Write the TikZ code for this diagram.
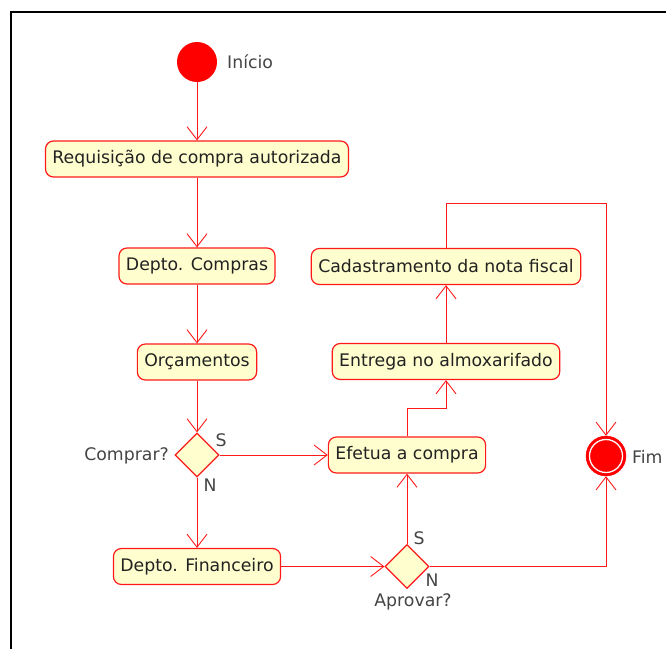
\documentclass[tikz,border=0pt]{standalone}
\usepackage{fontspec}
\setmainfont{DejaVu Sans}
\usetikzlibrary{arrows.meta,shapes.geometric}
\definecolor{actfill}{HTML}{FEFECE}
\definecolor{actline}{HTML}{FF1A1A}
\definecolor{acttext}{HTML}{222222}
\definecolor{lbltext}{HTML}{444444}
\begin{document}
\begin{tikzpicture}[x=1pt,y=-1pt,
  act/.style={draw=actline, fill=actfill, rounded corners=8pt, line width=1.2pt,
    minimum height=36pt, inner xsep=7pt, inner ysep=0pt,
    font=\fontsize{17.3}{20}\selectfont, text=acttext},
  decision/.style={diamond, draw=actline, fill=actfill, line width=1.2pt,
    minimum width=44pt, minimum height=44pt, inner sep=0pt},
  lbl/.style={font=\fontsize{17.3}{20}\selectfont, text=lbltext, inner sep=0pt},
  flow/.style={draw=actline, line width=0.9pt,
    -{Straight Barb[length=13pt,width=20pt,line width=0.9pt]}}]
\useasboundingbox (0,0) rectangle (666,648);
% outer frame
\draw[line width=1.4pt] (11,660) -- (11,12) -- (670,12);

% start and end
\node (inicio) [circle, fill=red, minimum size=40pt, inner sep=0pt] at (197,62) {};
\node (linicio) [lbl, anchor=west] at (227,62) {Início};
\node (fim) [circle, fill=red, draw=red, minimum size=40pt, inner sep=0pt,
  path picture={\draw[white, line width=1.3pt] (path picture bounding box.center) circle (16.5pt);}] at (606,456) {};
\node (lfim) [lbl, anchor=west] at (632,457) {Fim};

% activities
\node (req) [act] at (197,159) {Requisição de compra autorizada};
\node (compras) [act] at (197,266) {Depto. Compras};
\node (orc) [act] at (197,362) {Orçamentos};
\node (comprar) [decision] at (197,455) {};
\node (lcomprar) [lbl, anchor=east] at (169,456) {Comprar?};
\node (cs) [lbl] at (221,440) {S};
\node (cn) [lbl] at (210,485) {N};
\node (fin) [act] at (197,566.5) {Depto. Financeiro};
\node (aprovar) [decision] at (407,566.5) {};
\node (laprovar) [lbl] at (413,602) {Aprovar?};
\node (as) [lbl] at (419,538) {S};
\node (an) [lbl] at (432,580) {N};
\node (efetua) [act] at (407,455) {Efetua a compra};
\node (entrega) [act] at (446,361.5) {Entrega no almoxarifado};
\node (cad) [act] at (446,266.5) {Cadastramento da nota fiscal};

% routing points
\coordinate (j1) at (0,408);
\coordinate (j2) at (0,203);

% connectors
\draw[flow] (inicio) -- (req);
\draw[flow] (req) -- (compras);
\draw[flow] (compras) -- (orc);
\draw[flow] (orc) -- (comprar.north);
\draw[flow] (comprar.south) -- (fin);
\draw[flow] (comprar.east) -- (efetua.west);
\draw[flow] (fin.east) -- (aprovar.west);
\draw[flow] (aprovar.north) -- (efetua.south);
\draw[flow] (efetua.north) |- (j1 -| entrega.south) -- (entrega.south);
\draw[flow] (entrega.north) -- (cad.south);
\draw[flow] (cad.north) |- (j2 -| fim) -- (fim.north);
\draw[flow] (aprovar.east) -| (fim.south);
\end{tikzpicture}
\end{document}
